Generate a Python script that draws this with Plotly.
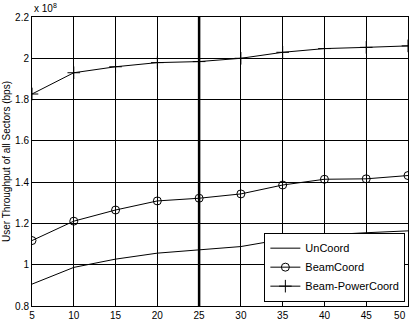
import plotly.graph_objects as go

x_vals = [5, 10, 15, 20, 25, 30, 35, 40, 45, 50]
uncoord = [0.906, 0.987, 1.027, 1.056, 1.072, 1.088, 1.123, 1.144, 1.155, 1.164]
beamcoord = [1.117, 1.211, 1.265, 1.309, 1.322, 1.343, 1.386, 1.414, 1.416, 1.432]
beampower = [1.827, 1.930, 1.959, 1.979, 1.984, 2.000, 2.029, 2.047, 2.053, 2.060]
x_ticks = [5, 10, 15, 20, 25, 30, 35, 40, 45, 50]
x_tick_text = ["5", "10", "15", "20", "25", "30", "35", "40", "45",
               "50\u00a0\u00a0\u00a0\u00a0\u00a0\u00a0"]
y_ticks = [0.8, 1.0, 1.2, 1.4, 1.6, 1.8, 2.0, 2.2]
y_tick_text = ["0.8", "1", "1.2", "1.4", "1.6", "1.8", "2", "2.2"]
highlight_x = 25

font = dict(family="Liberation Sans, Arial, sans-serif", size=10, color="black")

fig = go.Figure()
fig.add_trace(go.Scatter(x=x_vals, y=uncoord, name="UnCoord", mode="lines",
                         line=dict(color="black", width=1)))
fig.add_trace(go.Scatter(x=x_vals, y=beamcoord, name="BeamCoord", mode="lines+markers",
                         line=dict(color="black", width=1),
                         marker=dict(symbol="circle-open", size=8, color="black",
                                     line=dict(width=1, color="black"))))
fig.add_trace(go.Scatter(x=x_vals, y=beampower, name="Beam-PowerCoord", mode="lines+markers",
                         line=dict(color="black", width=1),
                         marker=dict(symbol="cross-thin-open", size=9, color="black",
                                     line=dict(width=1, color="black"))))

fig.add_shape(type="line", xref="x", yref="paper", x0=highlight_x, x1=highlight_x,
              y0=0, y1=1, line=dict(color="black", width=2.5))

fig.add_annotation(text="x 10<sup>8</sup>", xref="paper", yref="paper", x=0, y=1,
                   xanchor="left", yanchor="bottom", yshift=1, showarrow=False,
                   font=dict(family=font["family"], size=10, color="black"))

fig.update_layout(
    width=410, height=320,
    margin=dict(l=32, r=2, t=17, b=14, autoexpand=False),
    paper_bgcolor="white", plot_bgcolor="white",
    font=font,
    showlegend=True,
    legend=dict(x=0.993, y=0.015, xanchor="right", yanchor="bottom",
                bgcolor="white", bordercolor="black", borderwidth=1,
                font=dict(family=font["family"], size=11, color="black"),
                tracegroupgap=0, itemwidth=30),
    xaxis=dict(range=[5, 50], tickvals=x_ticks, ticktext=x_tick_text, showgrid=True,
               gridcolor="black", gridwidth=1, showline=True, linecolor="black",
               linewidth=1, mirror=True, ticks="inside", ticklen=3, tickcolor="black",
               zeroline=False, tickfont=font, ticklabeloverflow="allow"),
    yaxis=dict(range=[0.8, 2.2], tickvals=y_ticks, ticktext=y_tick_text, showgrid=True,
               gridcolor="black", gridwidth=1, showline=True, linecolor="black",
               linewidth=1, mirror=True, ticks="inside", ticklen=3, tickcolor="black",
               zeroline=False, tickfont=font, ticklabeloverflow="allow",
               title=dict(text="User Throughput of all Sectors (bps)", standoff=2,
                          font=dict(family=font["family"], size=10, color="black"))),
)

fig.write_html("out.html", config={"displayModeBar": False},
               post_script="document.body.style.margin='0';document.body.style.padding='0';")
